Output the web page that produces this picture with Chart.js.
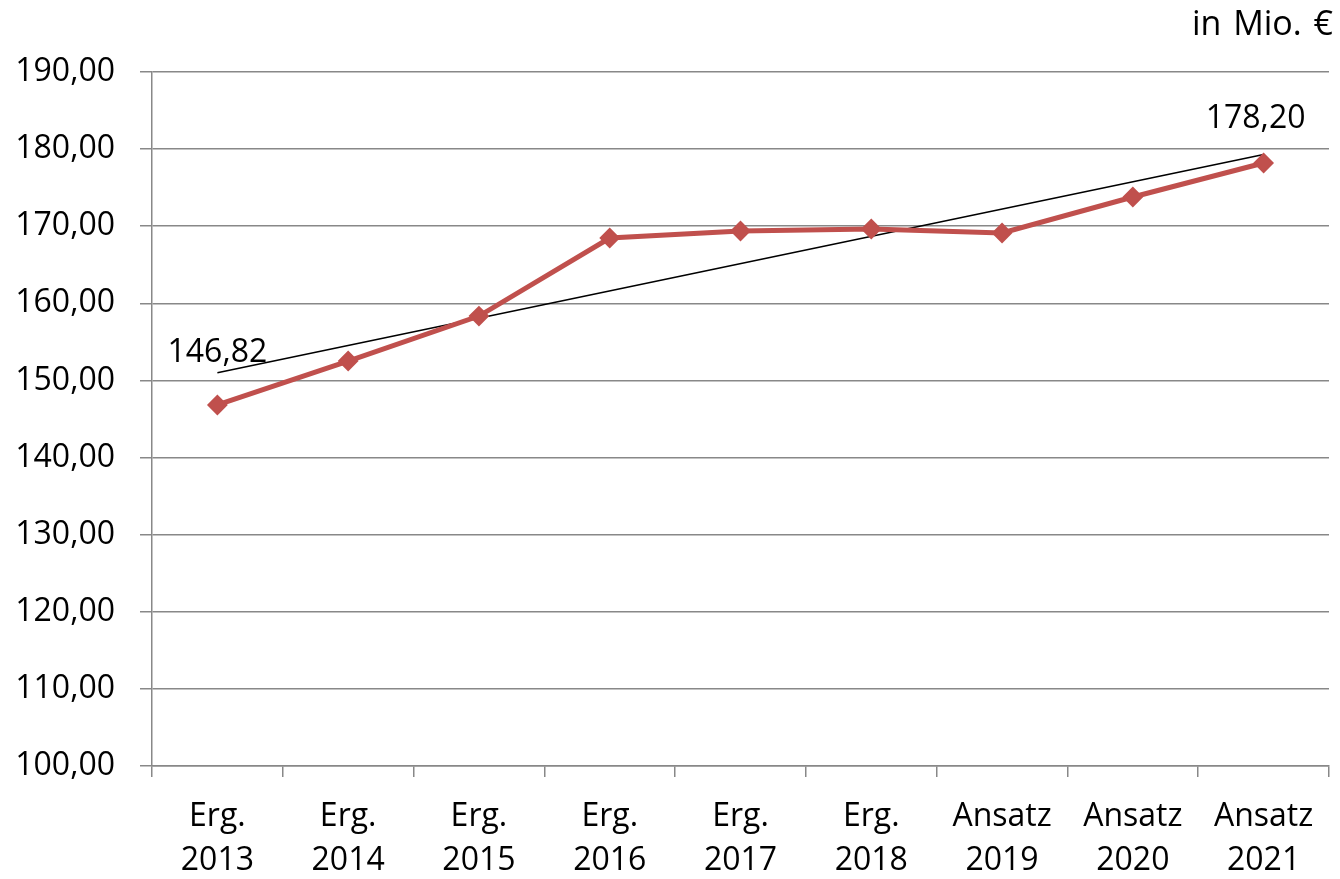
<!DOCTYPE html>
<html>
<head>
<meta charset="utf-8">
<script src="https://cdn.jsdelivr.net/npm/chart.js@4"></script>
<style>
	html, body { margin: 0; padding: 0; background: #fff; }
	#wrap { width: 1340px; height: 879px; position: relative; }
</style>
</head>
<body>
<div id="wrap"><canvas id="chart"></canvas></div>
<script>
const categories = [
	['Erg.', '2013'], ['Erg.', '2014'], ['Erg.', '2015'],
	['Erg.', '2016'], ['Erg.', '2017'], ['Erg.', '2018'],
	['Ansatz', '2019'], ['Ansatz', '2020'], ['Ansatz', '2021']
]
const values = [146.82, 152.52, 158.35, 168.47, 169.38, 169.64, 169.12, 173.79, 178.20]
// linear trend as it appears in the picture: start and end only
const trend = [151.0, null, null, null, null, null, null, null, 179.3]
const labelledPoints = [0, 8]
const yTicks = { min: 100, max: 190, step: 10 }
const unitText = 'in Mio. €'

const fontFamily = "'Open Sans', 'Noto Sans', sans-serif"
const gridColor = '#888888'
const red = '#C0504D'

const fmt = v => v.toFixed(2).replace('.', ',')

const labelPlugin = {
	id: 'labels',
	afterDatasetsDraw(chart) {
		const ctx = chart.ctx
		const meta = chart.getDatasetMeta(0)
		const shift = { 0: [0, -43], 8: [-8, -35] }
		ctx.save()
		ctx.font = `32px ${fontFamily}`
		ctx.fillStyle = '#000'
		ctx.textAlign = 'center'
		ctx.textBaseline = 'alphabetic'
		for (const i of labelledPoints) {
			const pt = meta.data[i]
			const [dx, dy] = shift[i]
			ctx.fillText(fmt(values[i]), pt.x + dx, pt.y + dy)
		}
		// unit note, top right
		ctx.font = `34px ${fontFamily}`
		ctx.textAlign = 'right'
		if ('wordSpacing' in ctx) ctx.wordSpacing = '3px'
		ctx.fillText(unitText, chart.width - 7, 35)
		ctx.restore()
	}
}

const data = {
	labels: categories,
	datasets: [{
		label: 'Werte',
		data: values,
		borderColor: red,
		backgroundColor: red,
		borderWidth: 5,
		pointStyle: 'rectRot',
		pointRadius: 9,
		pointBorderWidth: 2,
		pointBackgroundColor: red,
		pointBorderColor: red,
		tension: 0
	}, {
		label: 'Trend',
		data: trend,
		borderColor: '#000',
		borderWidth: 1.5,
		pointRadius: 0,
		spanGaps: true,
		tension: 0
	}]
}

const config = {
	type: 'line',
	data: data,
	options: {
		responsive: true,
		maintainAspectRatio: false,
		animation: false,
		layout: { padding: { top: 72, right: 10, left: 0, bottom: 0 } },
		plugins: {
			legend: { display: false },
			tooltip: { enabled: false }
		},
		scales: {
			x: {
				offset: true,
				grid: {
					offset: true,
					drawOnChartArea: false,
					drawTicks: true,
					tickLength: 11,
					color: gridColor,
					lineWidth: 1.5
				},
				border: { color: gridColor, width: 1.5 },
				ticks: {
					color: '#000',
					padding: 17,
					maxRotation: 0,
					autoSkip: false,
					font: { family: fontFamily, size: 32, lineHeight: 1.4 }
				},
				afterFit: scale => { scale.height = 113 }
			},
			y: {
				min: yTicks.min,
				max: yTicks.max,
				grid: {
					color: gridColor,
					lineWidth: 1.5,
					tickLength: 12
				},
				border: { color: gridColor, width: 1.5 },
				ticks: {
					stepSize: yTicks.step,
					color: '#000',
					padding: 25,
					font: { family: fontFamily, size: 32 },
					callback: v => fmt(v)
				},
				afterFit: scale => { scale.width = 152 }
			}
		}
	},
	plugins: [labelPlugin]
}

new Chart(document.getElementById('chart'), config)
</script>
</body>
</html>
